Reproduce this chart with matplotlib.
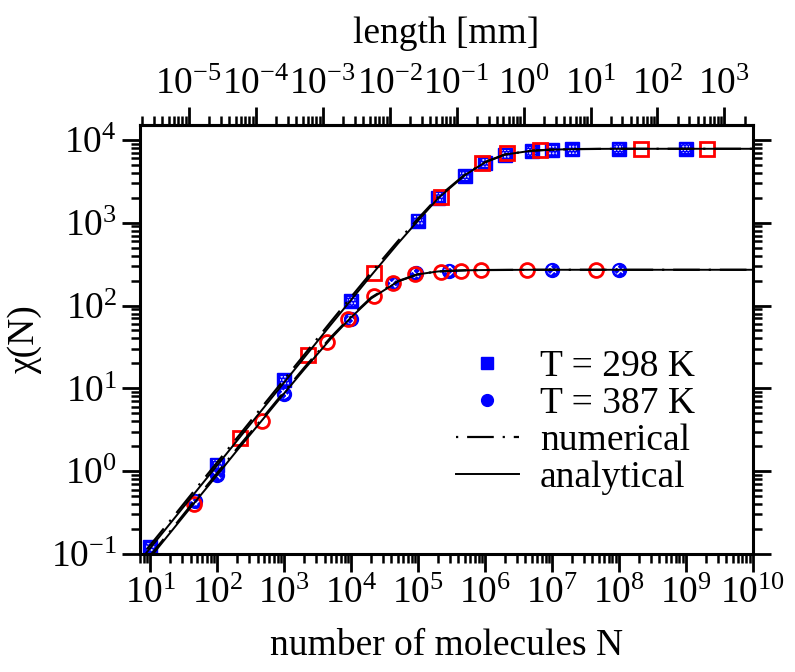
import numpy as np
import matplotlib.pyplot as plt
from matplotlib.ticker import LogLocator, NullFormatter
from matplotlib.lines import Line2D

plt.rcParams['font.family'] = ['Liberation Serif', 'DejaVu Serif']
plt.rcParams['mathtext.fontset'] = 'custom'
plt.rcParams['mathtext.rm'] = 'Liberation Serif'
plt.rcParams['mathtext.it'] = 'Liberation Serif:italic'
plt.rcParams['axes.unicode_minus'] = False
plt.rcParams['hatch.linewidth'] = 1.0

# T = 298 K, filled blue squares
n_298_blue = [10, 100, 1e3, 1e4, 1e5, 2e5, 5e5, 1e6, 2e6, 5e6, 1e7, 2e7, 1e8, 1e9]
chi_298_blue = [0.12, 1.2, 12.5, 113, 1050, 2000, 3700, 5300, 6600, 7300, 7500, 7650, 7800, 7800]
# T = 298 K, open red squares
n_298_red = [220, 2300, 2.2e4, 2.2e5, 9e5, 2.1e6, 6.7e6, 2.1e8, 2.1e9]
chi_298_red = [2.5, 25, 248, 2020, 5300, 6900, 7600, 7800, 7800]

# T = 387 K, filled blue circles
n_387_blue = [47, 100, 1e3, 1e4, 4.2e4, 9.3e4, 2.9e5, 1e7, 1e8]
chi_387_blue = [0.44, 0.9, 8.6, 68, 185, 245, 263, 268, 268]
# T = 387 K, open red circles
n_387_red = [45, 460, 4.4e3, 9e3, 2.2e4, 4.2e4, 9.1e4, 2.2e5, 4.4e5, 8.7e5, 4.3e6, 4.5e7]
chi_387_red = [0.40, 4.0, 36.7, 68, 130, 185, 238, 255, 263, 267, 267, 267]

# curves
n_line = [7, 10, 20, 50, 100, 200, 500, 1e3, 2e3, 5e3, 1e4, 2e4, 5e4, 1e5, 2e5,
          5e5, 1e6, 2e6, 5e6, 1e7, 2e7, 5e7, 1e8, 1e9, 1e10]
chi_298_ana = [0.083, 0.118, 0.236, 0.59, 1.18, 2.36, 5.9, 11.8, 23.6, 59, 117, 232, 560,
               1060, 1980, 3750, 5350, 6650, 7400, 7620, 7720, 7780, 7800, 7800, 7800]
chi_298_num = [0.09, 0.128, 0.255, 0.64, 1.28, 2.55, 6.4, 12.8, 25.5, 64, 127, 250, 600,
               1120, 2050, 3800, 5400, 6680, 7400, 7620, 7720, 7780, 7800, 7800, 7800]
chi_387_ana = [0.064, 0.091, 0.182, 0.455, 0.9, 1.8, 4.4, 8.7, 17, 40, 72, 122, 195,
               238, 258, 266, 268, 269, 270, 270, 270, 270, 270, 270, 270]
chi_387_num = [0.067, 0.096, 0.19, 0.48, 0.95, 1.9, 4.6, 9.1, 17.8, 41.5, 74, 125, 197,
               239, 258, 266, 268, 269, 270, 270, 270, 270, 270, 270, 270]

mm_per_molecule = 2.66e-7

fig = plt.figure(figsize=(7.95, 6.72), dpi=100)
ax = fig.add_axes([0.176, 0.1756, 0.771, 0.638])
ax.set_xscale('log')
ax.set_yscale('log')
ax.set_xlim(7, 1e10)
ax.set_ylim(0.1, 1.5e4)

ms = 9.5
ax.plot(n_298_blue, chi_298_blue, 's', ms=ms, mfc='#0000ff', mec='#0000ff', mew=1, zorder=2)
ax.scatter(n_298_blue, chi_298_blue, marker='s', s=(ms - 3) ** 2, facecolors='none',
           edgecolors='white', linewidths=0, hatch='.....', zorder=2.1)
ax.plot(n_387_blue, chi_387_blue, 'o', ms=ms + 0.5, mfc='#0000ff', mec='#0000ff', mew=1, zorder=2)
ax.scatter(n_387_blue, chi_387_blue, marker='o', s=(ms - 2.5) ** 2, facecolors='none',
           edgecolors='white', linewidths=0, hatch='xxxx', zorder=2.1)
ax.plot(n_298_red, chi_298_red, 's', ms=ms, mfc='none', mec='#ff0000', mew=2.0, zorder=3)
ax.plot(n_387_red, chi_387_red, 'o', ms=ms + 0.5, mfc='none', mec='#ff0000', mew=2.0, zorder=3)

dashdot = (0, (1, 4, 12, 4))
ax.plot(n_line, chi_298_num, color='black', lw=1.6, ls=dashdot, zorder=4)
ax.plot(n_line, chi_387_num, color='black', lw=1.6, ls=dashdot, zorder=4)
ax.plot(n_line, chi_298_ana, color='black', lw=1.4, zorder=4)
ax.plot(n_line, chi_387_ana, color='black', lw=1.4, zorder=4)

fs = 27
ax.set_xlabel('number of molecules N', fontsize=fs, labelpad=12)
ax.set_ylabel('χ(N)', fontsize=fs, labelpad=6)

for a in [ax.xaxis, ax.yaxis]:
    a.set_major_locator(LogLocator(base=10, numticks=30))
    a.set_minor_locator(LogLocator(base=10, subs=np.arange(2, 10), numticks=30))
    a.set_minor_formatter(NullFormatter())

ax.tick_params(which='both', direction='out', top=False, right=True, labelsize=fs, width=2)
ax.tick_params(which='major', length=13)
ax.tick_params(which='minor', length=6.5, width=1.8)
for s in ax.spines.values():
    s.set_linewidth(2.2)

sec = ax.secondary_xaxis('top', functions=(lambda n: n * mm_per_molecule,
                                           lambda l: l / mm_per_molecule))
sec.xaxis.set_major_locator(LogLocator(base=10, numticks=30))
sec.xaxis.set_minor_locator(LogLocator(base=10, subs=np.arange(2, 10), numticks=30))
sec.xaxis.set_minor_formatter(NullFormatter())
sec.tick_params(which='both', direction='out', labelsize=fs, width=2)
sec.tick_params(which='major', length=13)
sec.tick_params(which='minor', length=6.5, width=1.8)
sec.spines['top'].set_linewidth(2.2)
sec.set_xlabel('length [mm]', fontsize=fs, labelpad=18)

handles = [
    Line2D([], [], ls='none', marker='s', ms=8, mfc='#0000ff', mec='#0000ff'),
    Line2D([], [], ls='none', marker='o', ms=8.5, mfc='#0000ff', mec='#0000ff'),
    Line2D([], [], color='black', lw=1.6, ls=dashdot),
    Line2D([], [], color='black', lw=1.4),
]
labels = ['T = 298 K', 'T = 387 K', 'numerical', 'analytical']
ax.legend(handles, labels, loc='upper left', bbox_to_anchor=(0.515, 0.477), frameon=False,
          fontsize=fs, handlelength=1.7, handletextpad=0.55, labelspacing=0.07,
          borderpad=0, borderaxespad=0, numpoints=1)

fig.savefig('out.png', dpi=100)
